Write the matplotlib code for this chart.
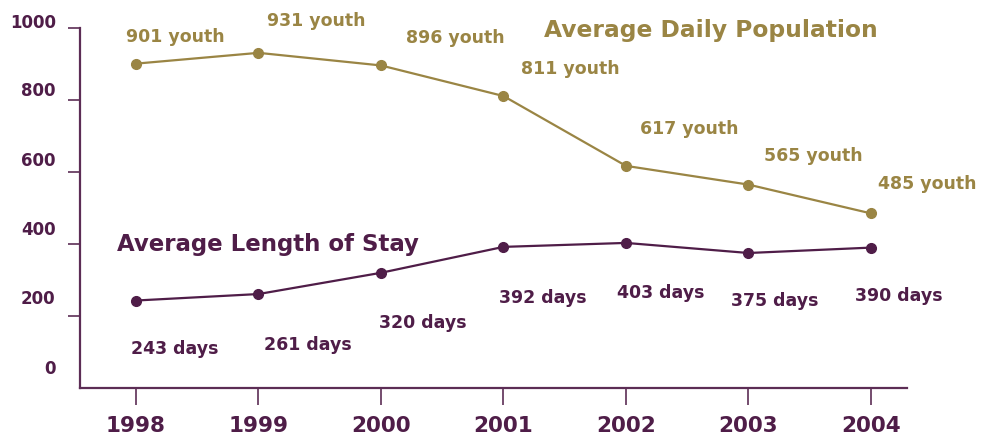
import matplotlib
matplotlib.use("Agg")
from matplotlib import pyplot as plt
from matplotlib.transforms import ScaledTranslation

years = [1998, 1999, 2000, 2001, 2002, 2003, 2004]
daily_pop = [901, 931, 896, 811, 617, 565, 485]
length_stay = [243, 261, 320, 392, 403, 375, 390]
pop_labels = ["901 youth", "931 youth", "896 youth", "811 youth",
              "617 youth", "565 youth", "485 youth"]
stay_labels = ["243 days", "261 days", "320 days", "392 days",
               "403 days", "375 days", "390 days"]
y_ticks = [0, 200, 400, 600, 800, 1000]

gold = "#9a8544"
purple = "#4f1d48"
axis_col = "#5c2d55"

plt.rcParams["font.family"] = ["DejaVu Sans"]
plt.rcParams["font.weight"] = "bold"

fig = plt.figure(figsize=(9.82, 4.41), dpi=100)
ax = fig.add_axes([80 / 982, 53 / 441, 827 / 982, 360 / 441])

ax.plot(years, daily_pop, color=gold, lw=1.6, marker="o", ms=7, zorder=3)
ax.plot(years, length_stay, color=purple, lw=1.6, marker="o", ms=7, zorder=3)

# label offsets in pixels (x right, y up)
pop_off = [(39, 27), (58, 32), (74, 27), (67, 27), (63, 37), (65, 29), (56, 29)]
stay_off = [(39, -48), (49, -51), (42, -50), (39, -51), (35, -50), (26, -48), (28, -48)]
for x, v, t, o in zip(years, daily_pop, pop_labels, pop_off):
    ax.annotate(t, (x, v), xytext=o, textcoords="offset pixels", ha="center",
                va="center", color=gold, fontsize=12.5, fontweight="bold")
for x, v, t, o in zip(years, length_stay, stay_labels, stay_off):
    ax.annotate(t, (x, v), xytext=o, textcoords="offset pixels", ha="center",
                va="center", color=purple, fontsize=12.5, fontweight="bold")

fig.text(711 / 982, 1 - 30 / 441, "Average Daily Population", color=gold,
         fontsize=16.8, fontweight="bold", ha="center", va="center")
fig.text(268 / 982, 1 - 245 / 441, "Average Length of Stay", color=purple,
         fontsize=16.5, fontweight="bold", ha="center", va="center")

ax.set_xlim(1997.543, 2004.294)
ax.set_ylim(0, 1000)
ax.set_xticks(years)
ax.set_xticklabels([str(y) for y in years], fontsize=15.5, fontweight="bold", color=purple)
ax.set_yticks(y_ticks)
ax.set_yticklabels([str(v) for v in y_ticks], fontsize=12, fontweight="bold", color=purple)

for s in ["top", "right"]:
    ax.spines[s].set_visible(False)
for s in ["left", "bottom"]:
    ax.spines[s].set_color(axis_col)
    ax.spines[s].set_linewidth(1.6)

ax.tick_params(axis="x", length=12, width=1.2, color=axis_col, pad=8)
ax.tick_params(axis="y", length=8.5, width=1.2, color=axis_col, pad=9)
ax.yaxis.get_major_ticks()[0].tick1line.set_visible(False)

# tick labels sit above their ticks in the original
shifts = [21, 19, 16, 13, 11, 7]
for lab, s in zip(ax.get_yticklabels(), shifts):
    lab.set_transform(lab.get_transform() + ScaledTranslation(0, s / 100, fig.dpi_scale_trans))

fig.savefig("out.png", dpi=100)
